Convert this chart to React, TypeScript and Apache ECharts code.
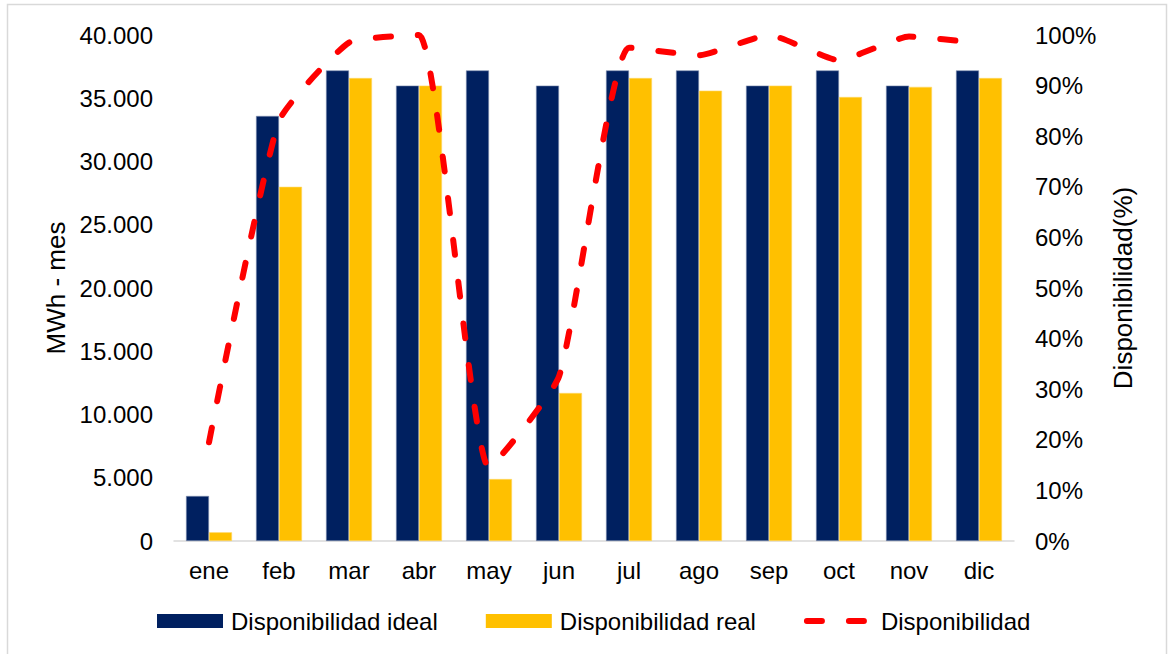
import React, { useEffect, useRef } from "react";
import * as echarts from "echarts";

const months = ["ene", "feb", "mar", "abr", "may", "jun", "jul", "ago", "sep", "oct", "nov", "dic"];
const idealMWh = [3560, 33600, 37200, 36000, 37200, 36000, 37200, 37200, 36000, 37200, 36000, 37200];
const realMWh = [690, 28000, 36600, 36000, 4900, 11700, 36600, 35600, 36000, 35100, 35900, 36600];
const availabilityPct = [19.5, 83, 98.5, 100, 14.5, 32.5, 97.5, 96, 100, 95, 99.7, 98.4];

const FONT = "'Liberation Sans', Arial, Helvetica, sans-serif";

function fmtThousands(v: number): string {
  return String(Math.round(v)).replace(/\B(?=(\d{3})+(?!\d))/g, ".");
}

export default function App() {
  const ref = useRef<HTMLDivElement>(null);
  useEffect(() => {
    if (!ref.current) return;
    const chart = echarts.init(ref.current, undefined, { renderer: "svg" });
    const redLine = { color: "#FF0000", width: 6, type: [15, 27], cap: "round" };
    chart.setOption({
      animation: false,
      backgroundColor: "#ffffff",
      textStyle: { fontFamily: FONT, color: "#000" },
      grid: { left: 174, right: 156, top: 35, bottom: 113, containLabel: false },
      graphic: [
        {
          type: "rect",
          shape: { x: 7.5, y: 4.5, width: 1159, height: 700 },
          style: { fill: "none", stroke: "#D9D9D9", lineWidth: 1.5 },
          silent: true,
          z: 0,
        },
      ],
      legend: {
        left: 152,
        top: 604,
        itemWidth: 66,
        itemHeight: 14,
        itemGap: 48,
        textStyle: { fontFamily: FONT, fontSize: 24, color: "#000", padding: [0, 0, 0, 3] },
        data: [
          { name: "Disponibilidad ideal", icon: "rect", itemStyle: { borderWidth: 0 } },
          { name: "Disponibilidad real", icon: "rect", itemStyle: { borderWidth: 0 } },
          { name: "Disponibilidad", itemStyle: { opacity: 0 }, lineStyle: redLine },
        ],
      },
      xAxis: {
        type: "category",
        data: months,
        axisLine: { show: true, lineStyle: { color: "#D9D9D9", width: 1.5 } },
        axisTick: { show: false },
        axisLabel: { fontFamily: FONT, fontSize: 24, color: "#000", margin: 17 },
        splitLine: { show: false },
      },
      yAxis: [
        {
          type: "value",
          min: 0,
          max: 40000,
          interval: 5000,
          name: "MWh - mes",
          nameLocation: "middle",
          nameRotate: 90,
          nameGap: 104,
          nameTextStyle: { fontFamily: FONT, fontSize: 26, color: "#000" },
          axisLine: { show: false },
          axisTick: { show: false },
          splitLine: { show: false },
          axisLabel: {
            fontFamily: FONT,
            fontSize: 24,
            color: "#000",
            margin: 21,
            formatter: (v: number) => fmtThousands(v),
          },
        },
        {
          type: "value",
          min: 0,
          max: 100,
          interval: 10,
          position: "right",
          name: "Disponibilidad(%)",
          nameLocation: "middle",
          nameRotate: 90,
          nameGap: 96,
          nameTextStyle: { fontFamily: FONT, fontSize: 26, color: "#000" },
          axisLine: { show: false },
          axisTick: { show: false },
          splitLine: { show: false },
          axisLabel: {
            fontFamily: FONT,
            fontSize: 24,
            color: "#000",
            margin: 21,
            formatter: "{value}%",
          },
        },
      ],
      series: [
        {
          name: "Disponibilidad ideal",
          type: "bar",
          data: idealMWh,
          barWidth: 23,
          barGap: "0%",
          itemStyle: { color: "#002060", borderColor: "#7F8FB0", borderWidth: 0.6 },
        },
        {
          name: "Disponibilidad real",
          type: "bar",
          data: realMWh,
          barWidth: 23,
          barGap: "0%",
          itemStyle: { color: "#FFC000", borderColor: "#FFD966", borderWidth: 0.6 },
        },
        {
          name: "Disponibilidad",
          type: "line",
          yAxisIndex: 1,
          data: availabilityPct,
          smooth: 0.15,
          symbol: "none",
          z: 5,
          lineStyle: redLine,
          itemStyle: { color: "#FF0000" },
        },
      ],
    });
    return () => chart.dispose();
  }, []);
  return (
    <div
      ref={ref}
      style={{ position: "absolute", left: 0, top: 0, width: 1170, height: 654 }}
    />
  );
}
